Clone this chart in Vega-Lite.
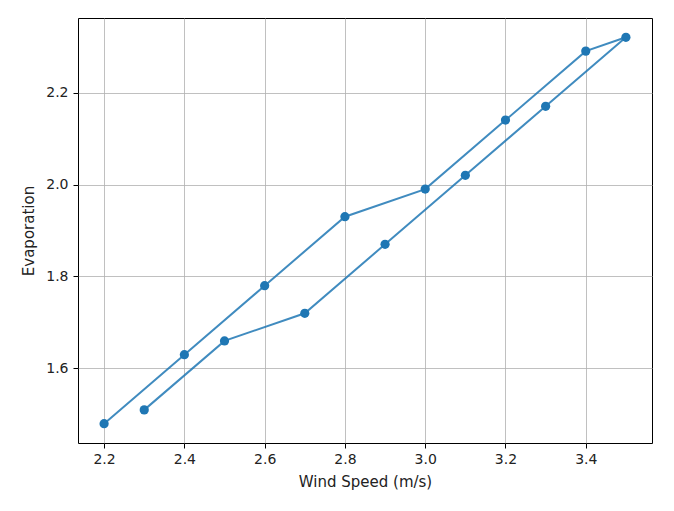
{
  "$schema": "https://vega.github.io/schema/vega-lite/v6.json",
  "width": 574,
  "height": 425,
  "autosize": {"type": "none"},
  "padding": {"left": 78, "top": 18, "right": 22, "bottom": 68},
  "background": "white",
  "config": {
    "view": {"stroke": "black", "strokeWidth": 1},
    "font": "DejaVu Sans",
    "axis": {
      "labelFont": "DejaVu Sans",
      "titleFont": "DejaVu Sans",
      "labelFontSize": 14,
      "titleFontSize": 15,
      "titleFontWeight": "normal",
      "labelColor": "#222222",
      "titleColor": "#222222",
      "domain": false,
      "tickColor": "black",
      "tickSize": 5,
      "gridColor": "#b0b0b0",
      "gridWidth": 1,
      "gridOpacity": 0.8
    }
  },
  "data": {
    "values": [
      {"i": 0, "wind": 2.3, "evap": 1.51},
      {"i": 1, "wind": 2.5, "evap": 1.66},
      {"i": 2, "wind": 2.7, "evap": 1.72},
      {"i": 3, "wind": 2.9, "evap": 1.87},
      {"i": 4, "wind": 3.1, "evap": 2.02},
      {"i": 5, "wind": 3.3, "evap": 2.17},
      {"i": 6, "wind": 3.5, "evap": 2.32},
      {"i": 7, "wind": 3.4, "evap": 2.29},
      {"i": 8, "wind": 3.2, "evap": 2.14},
      {"i": 9, "wind": 3.0, "evap": 1.99},
      {"i": 10, "wind": 2.8, "evap": 1.93},
      {"i": 11, "wind": 2.6, "evap": 1.78},
      {"i": 12, "wind": 2.4, "evap": 1.63},
      {"i": 13, "wind": 2.2, "evap": 1.48}
    ]
  },
  "encoding": {
    "x": {
      "field": "wind", "type": "quantitative",
      "scale": {"domain": [2.135, 3.565], "nice": false, "zero": false},
      "axis": {"values": [2.2, 2.4, 2.6, 2.8, 3.0, 3.2, 3.4], "format": ".1f", "title": "Wind Speed (m/s)", "titlePadding": 8, "labelPadding": 4}
    },
    "y": {
      "field": "evap", "type": "quantitative",
      "scale": {"domain": [1.438, 2.362], "nice": false, "zero": false},
      "axis": {"values": [1.6, 1.8, 2.0, 2.2], "format": ".1f", "title": "Evaporation", "titlePadding": 9, "labelPadding": 5}
    },
    "order": {"field": "i", "type": "quantitative"}
  },
  "layer": [
    {"mark": {"type": "line", "color": "#1f77b4", "strokeWidth": 2, "opacity": 0.85}},
    {"mark": {"type": "circle", "color": "#1f77b4", "size": 85, "opacity": 1}}
  ]
}
